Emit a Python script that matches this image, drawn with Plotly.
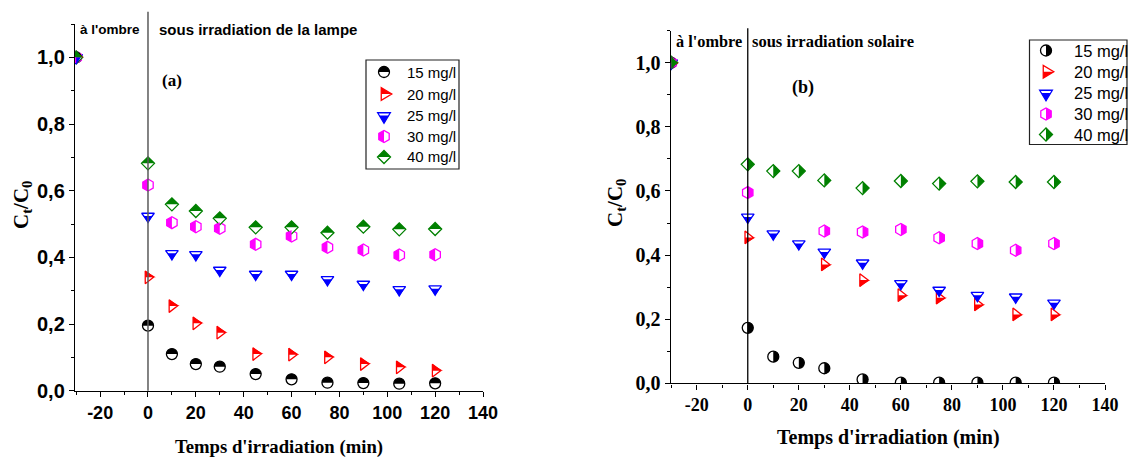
import math
import plotly.graph_objects as go

# ---------------- data ----------------
TIME = [-30, 0, 10, 20, 30, 45, 60, 75, 90, 105, 120]
SERIES_NAMES = ["15 mg/l", "20 mg/l", "25 mg/l", "30 mg/l", "40 mg/l"]

A_15 = [1.0, 0.195, 0.110, 0.080, 0.072, 0.050, 0.034, 0.024, 0.023, 0.021, 0.022]
A_20 = [1.0, 0.340, 0.254, 0.202, 0.174, 0.110, 0.108, 0.100, 0.080, 0.070, 0.060]
A_25 = [1.0, 0.524, 0.412, 0.409, 0.362, 0.350, 0.350, 0.334, 0.320, 0.304, 0.306]
A_30 = [1.0, 0.617, 0.504, 0.492, 0.487, 0.439, 0.464, 0.430, 0.422, 0.407, 0.408]
A_40 = [1.0, 0.682, 0.559, 0.539, 0.517, 0.490, 0.490, 0.474, 0.492, 0.484, 0.485]

B_15 = [1.0, 0.173, 0.083, 0.064, 0.047, 0.012, 0.002, 0.002, 0.002, 0.002, 0.002]
B_20 = [1.0, 0.455, None, None, 0.371, 0.322, 0.275, 0.267, 0.246, 0.215, 0.215]
B_25 = [1.0, 0.519, 0.467, 0.436, 0.410, 0.376, 0.312, 0.291, 0.275, 0.270, 0.251]
B_30 = [1.0, 0.595, None, None, 0.475, 0.472, 0.480, 0.454, 0.436, 0.415, 0.436]
B_40 = [1.0, 0.683, 0.662, 0.662, 0.633, 0.609, 0.631, 0.623, 0.630, 0.628, 0.628]

X_TICKS = [-20, 0, 20, 40, 60, 80, 100, 120, 140]
Y_TICKS = [0.0, 0.2, 0.4, 0.6, 0.8, 1.0]

# ---------------- style ----------------
W, H = 1129, 457
COLORS = ["#000000", "#ff0000", "#0000ff", "#ff00ff", "#008000"]
SYMBOLS = ["circle", "triangle-right", "triangle-down", "hexagon", "diamond"]
SIZES = [11, 11, 11, 12, 10]
HALF_A = ["top", "top", "lower", "left", "top"]
HALF_B = ["right", "bottom", "lower", "right", "right"]
SANS = "Liberation Sans"
SERIF = "Liberation Serif"


def px(X):
    return X / W


def py(Y):
    return 1 - Y / H


def f(v):
    return f"{v:.2f}"


def full_path(symbol, size):
    r = size / 2
    if symbol == "circle":
        k = 0.5523 * r
        return (f"M{f(-r)},0 C{f(-r)},{f(k)} {f(-k)},{f(r)} 0,{f(r)} "
                f"C{f(k)},{f(r)} {f(r)},{f(k)} {f(r)},0 "
                f"C{f(r)},{f(-k)} {f(k)},{f(-r)} 0,{f(-r)} "
                f"C{f(-k)},{f(-r)} {f(-r)},{f(-k)} {f(-r)},0 Z")
    if symbol == "triangle-right":
        rt, r2, rs = r * 2 / math.sqrt(3), r / 2, r * math.sqrt(2)
        return f"M{f(-r2)},{f(rt)} L{f(-r2)},{f(-rt)} L{f(rs)},0 Z"
    if symbol == "triangle-down":
        rt, r2, rs = r * 2 / math.sqrt(3), r / 2, r * math.sqrt(2)
        return f"M{f(-rt)},{f(r2)} L{f(rt)},{f(r2)} L0,{f(-rs)} Z"
    if symbol == "hexagon":
        rt, r2 = r * math.sqrt(3) / 2, r / 2
        return (f"M{f(rt)},{f(r2)} L{f(rt)},{f(-r2)} L0,{f(-r)} "
                f"L{f(-rt)},{f(-r2)} L{f(-rt)},{f(r2)} L0,{f(r)} Z")
    if symbol == "diamond":
        rd = 1.3 * r
        return f"M{f(rd)},0 L0,{f(rd)} L{f(-rd)},0 L0,{f(-rd)} Z"


def half_path(symbol, size, half):
    r = size / 2
    if symbol == "circle":
        k = 0.5523 * r
        if half == "top":
            return (f"M{f(-r)},0 C{f(-r)},{f(k)} {f(-k)},{f(r)} 0,{f(r)} "
                    f"C{f(k)},{f(r)} {f(r)},{f(k)} {f(r)},0 Z")
        return (f"M0,{f(r)} C{f(k)},{f(r)} {f(r)},{f(k)} {f(r)},0 "
                f"C{f(r)},{f(-k)} {f(k)},{f(-r)} 0,{f(-r)} Z")
    if symbol == "triangle-right":
        rt, r2, rs = r * 2 / math.sqrt(3), r / 2, r * math.sqrt(2)
        s = 1 if half == "top" else -1
        return f"M{f(-r2)},0 L{f(-r2)},{f(s * rt)} L{f(rs)},0 Z"
    if symbol == "triangle-down":
        rt, r2, rs = r * 2 / math.sqrt(3), r / 2, r * math.sqrt(2)
        w = rt * rs / (r2 + rs)
        return f"M{f(-w)},0 L{f(w)},0 L0,{f(-rs)} Z"
    if symbol == "hexagon":
        rt, r2 = r * math.sqrt(3) / 2, r / 2
        s = -1 if half == "left" else 1
        return f"M0,{f(r)} L{f(s * rt)},{f(r2)} L{f(s * rt)},{f(-r2)} L0,{f(-r)} Z"
    if symbol == "diamond":
        rd = 1.3 * r
        if half == "top":
            return f"M{f(-rd)},0 L0,{f(rd)} L{f(rd)},0 Z"
        return f"M0,{f(rd)} L{f(rd)},0 L0,{f(-rd)} Z"


fig = go.Figure()
shapes = []
annotations = []

panels = [
    dict(series=[A_15, A_20, A_25, A_30, A_40], xa="x", ya="y", halves=HALF_A),
    dict(series=[B_15, B_20, B_25, B_30, B_40], xa="x2", ya="y2", halves=HALF_B),
]

for p in panels:
    for i, vals in enumerate(p["series"]):
        fig.add_trace(go.Scatter(
            x=TIME, y=vals, mode="markers", name=SERIES_NAMES[i], showlegend=False,
            xaxis=p["xa"], yaxis=p["ya"], cliponaxis=True,
            marker=dict(symbol=SYMBOLS[i], size=SIZES[i], color="white",
                        line=dict(color=COLORS[i], width=1.3)),
        ))
        hp = half_path(SYMBOLS[i], SIZES[i], p["halves"][i])
        for t, v in zip(TIME, vals):
            if v is None:
                continue
            shapes.append(dict(type="path", xref=p["xa"], yref=p["ya"],
                               xsizemode="pixel", ysizemode="pixel",
                               xanchor=t, yanchor=v, path=hp,
                               fillcolor=COLORS[i], line=dict(width=0), layer="above"))

# vertical separator lines at t = 0
shapes.append(dict(type="line", xref="x", yref="paper", x0=0, x1=0,
                   y0=py(390.7), y1=py(11.7), line=dict(color="#5a5a5a", width=1.5)))
shapes.append(dict(type="line", xref="x2", yref="paper", x0=0, x1=0,
                   y0=py(383.3), y1=py(28.3), line=dict(color="#000000", width=1.3)))


# manual legends
def legend(box, rows, mx, tx, halves, fsize):
    x0, y0, x1, y1 = box
    shapes.append(dict(type="rect", xref="paper", yref="paper",
                       x0=px(x0), x1=px(x1), y0=py(y1), y1=py(y0),
                       line=dict(color="#222222", width=1.2), fillcolor="white",
                       layer="above"))
    for i, Y in enumerate(rows):
        shapes.append(dict(type="path", xref="paper", yref="paper",
                           xsizemode="pixel", ysizemode="pixel",
                           xanchor=px(mx), yanchor=py(Y),
                           path=full_path(SYMBOLS[i], SIZES[i]), fillcolor="white",
                           line=dict(color=COLORS[i], width=1.3), layer="above"))
        shapes.append(dict(type="path", xref="paper", yref="paper",
                           xsizemode="pixel", ysizemode="pixel",
                           xanchor=px(mx), yanchor=py(Y),
                           path=half_path(SYMBOLS[i], SIZES[i], halves[i]),
                           fillcolor=COLORS[i], line=dict(width=0), layer="above"))
        annotations.append(dict(xref="paper", yref="paper", x=px(tx), y=py(Y),
                                xanchor="left", yanchor="middle", showarrow=False,
                                text=SERIES_NAMES[i],
                                font=dict(family=SANS, size=fsize, color="black")))


legend((366, 60, 459, 169), [72, 94, 115.5, 136.5, 157], 384, 405, HALF_A, 15)
legend((1029.5, 40, 1127, 144.5), [50.5, 71.7, 93, 114, 134.5], 1046, 1072, HALF_B, 16.5)


def ann(text, X, Y, family, size, xanchor="left", angle=0):
    annotations.append(dict(xref="paper", yref="paper", x=px(X), y=py(Y),
                            xanchor=xanchor, yanchor="middle", showarrow=False,
                            text=text, textangle=angle,
                            font=dict(family=family, size=size, color="black")))


ann("<b>à l'ombre</b>", 78, 29, SANS, 13.5)
ann("<b>sous irradiation de la lampe</b>", 157, 29, SANS, 15)
ann("<b>à l'ombre</b>", 674, 42, SERIF, 16.3)
ann("<b>sous irradiation solaire</b>", 750, 42, SERIF, 16.5)
ann("<b>(a)</b>", 172, 80.5, SERIF, 17, "center")
ann("<b>(b)</b>", 803, 87, SERIF, 18, "center")
ann("<b>Temps d'irradiation (min)</b>", 279, 447, SERIF, 18.7, "center")
ann("<b>Temps d'irradiation (min)</b>", 888, 437, SERIF, 20, "center")
ann("<b>C<sub>t</sub>/C<sub>0</sub></b>", 22, 205, SERIF, 21, "center", -90)
ann("<b>C<sub>t</sub>/C<sub>0</sub></b>", 616, 203, SERIF, 21, "center", -90)


def xaxis(domain, rng, anchor, family):
    return dict(domain=domain, range=rng, anchor=anchor, tickvals=X_TICKS,
                ticktext=[f"<b>{v}</b>" for v in X_TICKS], automargin=False,
                showline=True, linecolor="black", linewidth=1.4, mirror=False,
                ticks="outside", ticklen=5, tickwidth=1.4, tickcolor="black",
                minor=dict(ticks="outside", ticklen=3, tickwidth=1.2, dtick=10,
                           tick0=0, tickcolor="black"),
                showgrid=False, zeroline=False,
                tickfont=dict(family=family, size=18, color="black"))


def yaxis(domain, anchor, family):
    return dict(domain=domain, range=[0, 1.1], anchor=anchor, tickvals=Y_TICKS,
                ticktext=["<b>" + f"{v:.1f}".replace(".", ",") + "</b>" for v in Y_TICKS],
                automargin=False,
                showline=True, linecolor="black", linewidth=1.4,
                ticks="outside", ticklen=5, tickwidth=1.4, tickcolor="black",
                minor=dict(ticks="outside", ticklen=3, tickwidth=1.2, dtick=0.1,
                           tick0=0, tickcolor="black"),
                showgrid=False, zeroline=False,
                tickfont=dict(family=family, size=20, color="black"))


fig.update_layout(
    width=W, height=H, autosize=False,
    margin=dict(l=0, r=0, t=0, b=0, pad=0),
    paper_bgcolor="white", plot_bgcolor="white",
    separators=",.",
    showlegend=False,
    xaxis=xaxis([px(75), px(483)], [-30.5, 140], "y", SANS),
    yaxis=yaxis([py(390.7), py(24)], "x", SANS),
    xaxis2=xaxis([px(670.7), px(1105)], [-30.2, 140], "y2", SERIF),
    yaxis2=yaxis([py(383.3), py(30.7)], "x2", SERIF),
    shapes=shapes,
    annotations=annotations,
)

fig.write_html("out.html")
